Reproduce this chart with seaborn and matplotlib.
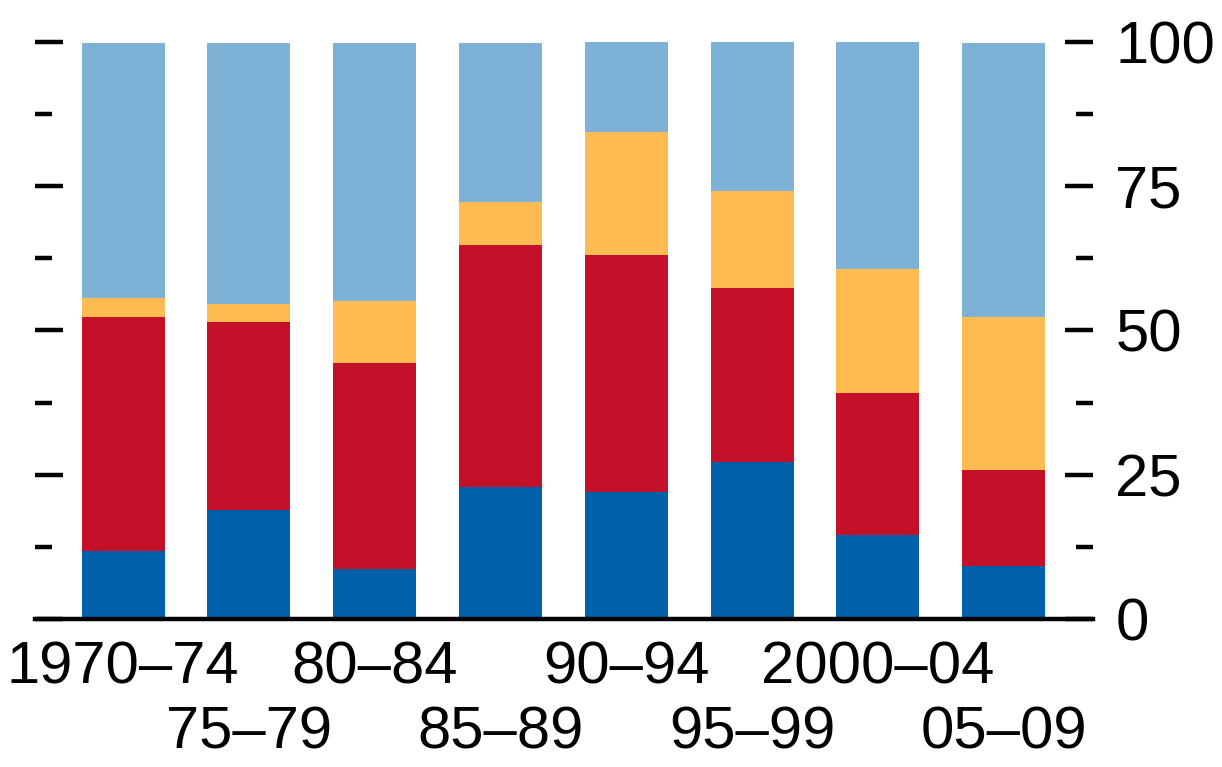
import matplotlib
matplotlib.use("Agg")
import matplotlib.pyplot as plt
from matplotlib.ticker import MultipleLocator
from matplotlib import font_manager
import numpy as np
import pandas as pd
import seaborn as sns

periods = ["1970–74", "75–79", "80–84", "85–89", "90–94", "95–99", "2000–04", "05–09"]
dark_blue = [11.8, 18.8, 8.6, 22.9, 22.0, 27.2, 14.6, 9.1]
red = [40.5, 32.6, 35.8, 41.9, 41.0, 30.2, 24.6, 16.7]
yellow = [3.3, 3.2, 10.7, 7.5, 21.3, 16.7, 21.5, 26.5]
light_blue = [44.2, 45.2, 44.7, 27.5, 15.7, 25.9, 39.3, 47.5]

colors = {"dark_blue": "#0061AA", "red": "#C41129", "yellow": "#FDBB51", "light_blue": "#7DB1D6"}

sns.set_theme(style="white")
names = {f.name for f in font_manager.fontManager.ttflist}
fam = "Liberation Sans Narrow" if "Liberation Sans Narrow" in names else "Liberation Sans"
plt.rcParams["font.family"] = [fam, "DejaVu Sans"]
FS = 50 if fam == "Liberation Sans Narrow" else 43

df = pd.DataFrame({"period": periods, "dark_blue": dark_blue, "red": red,
                   "yellow": yellow, "light_blue": light_blue})
order = ["dark_blue", "red", "yellow", "light_blue"]
cum = df[order].cumsum(axis=1)

fig = plt.figure(figsize=(12.22, 7.67), dpi=100)
ax = fig.add_axes([35 / 1222, (767 - 619) / 767, (1093 - 35) / 1222, (619 - 41.7) / 767])

for key in reversed(order):
    sns.barplot(x=df["period"], y=cum[key], color=colors[key], width=0.66,
                saturation=1, ax=ax, order=periods, linewidth=0)

ax.set_xlim(-0.70, 7.71)
ax.set_ylim(0, 100)
ax.set_xlabel("")
ax.set_ylabel("")

for s in ["top", "left", "right"]:
    ax.spines[s].set_visible(False)
ax.spines["bottom"].set_linewidth(3.2)
ax.spines["bottom"].set_color("black")

ax.yaxis.set_major_locator(MultipleLocator(25))
ax.yaxis.set_minor_locator(MultipleLocator(12.5))
ax.tick_params(axis="y", which="major", direction="in", left=True, right=True,
               labelleft=False, labelright=True, length=20, width=3.2,
               color="black", labelsize=FS, labelcolor="black", pad=16)
ax.tick_params(axis="y", which="minor", direction="in", left=True, right=True,
               length=12, width=3.2, color="black")
ax.set_yticks([0, 25, 50, 75, 100])
ax.set_yticklabels(["0", "25", "50", "75", "100"])

xt = np.arange(len(periods))
ax.set_xticks(xt[0::2], labels=periods[0::2])
ax.set_xticks(xt[1::2], labels=periods[1::2], minor=True)
ax.tick_params(axis="x", which="major", length=0, labelsize=FS,
               labelcolor="black", pad=15.3)
ax.tick_params(axis="x", which="minor", length=0, labelsize=FS,
               labelcolor="black", pad=62.3)

fig.savefig("out.png", dpi=100, facecolor="white")
